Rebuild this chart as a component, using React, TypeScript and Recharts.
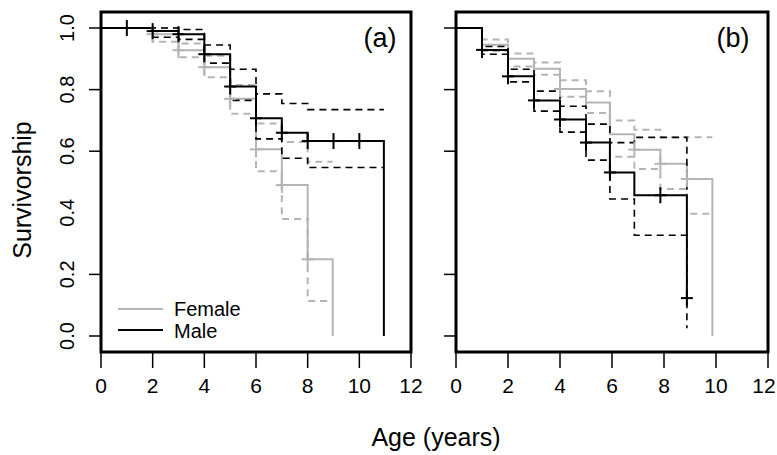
import React from 'react';
import { ComposedChart, Line, Scatter, XAxis, YAxis, ReferenceArea } from 'recharts';

// survival estimates: t = age (years), s = survivorship
const maleA = [
  { t: 0, s: 1 }, { t: 2, s: 0.99 }, { t: 3, s: 0.98 }, { t: 4, s: 0.915 }, { t: 5, s: 0.81 },
  { t: 6, s: 0.707 }, { t: 7, s: 0.66 }, { t: 8, s: 0.633 }, { t: 10.95, s: 0 },
];
const maleAUpper = [
  { t: 0, s: 1 }, { t: 2, s: 1 }, { t: 3, s: 0.995 }, { t: 4, s: 0.945 }, { t: 5, s: 0.866 },
  { t: 6, s: 0.786 }, { t: 7, s: 0.755 }, { t: 8, s: 0.735 }, { t: 10.95, s: 0.735 },
];
const maleALower = [
  { t: 0, s: 1 }, { t: 2, s: 0.97 }, { t: 3, s: 0.963 }, { t: 4, s: 0.886 }, { t: 5, s: 0.765 },
  { t: 6, s: 0.64 }, { t: 7, s: 0.577 }, { t: 8, s: 0.547 }, { t: 10.95, s: 0.547 },
];
const maleACensor = [
  { t: 1, s: 1 }, { t: 2, s: 0.99 }, { t: 3, s: 0.98 }, { t: 4, s: 0.915 }, { t: 5, s: 0.81 },
  { t: 6, s: 0.707 }, { t: 7, s: 0.66 }, { t: 8, s: 0.633 }, { t: 9, s: 0.633 }, { t: 10, s: 0.633 },
];

const femaleA = [
  { t: 0, s: 1 }, { t: 2, s: 0.98 }, { t: 3, s: 0.928 }, { t: 4, s: 0.873 }, { t: 5, s: 0.77 },
  { t: 6, s: 0.606 }, { t: 7, s: 0.49 }, { t: 8, s: 0.249 }, { t: 8.97, s: 0 },
];
const femaleAUpper = [
  { t: 0, s: 1 }, { t: 2, s: 1 }, { t: 3, s: 0.95 }, { t: 4, s: 0.91 }, { t: 5, s: 0.815 },
  { t: 6, s: 0.69 }, { t: 7, s: 0.63 }, { t: 8, s: 0.566 }, { t: 8.97, s: 0.566 },
];
const femaleALower = [
  { t: 0, s: 1 }, { t: 2, s: 0.955 }, { t: 3, s: 0.905 }, { t: 4, s: 0.84 }, { t: 5, s: 0.722 },
  { t: 6, s: 0.535 }, { t: 7, s: 0.38 }, { t: 8, s: 0.114 }, { t: 8.97, s: 0.114 },
];
const femaleACensor = [
  { t: 2, s: 0.98 }, { t: 3, s: 0.928 }, { t: 4, s: 0.873 }, { t: 5, s: 0.77 },
  { t: 6, s: 0.606 }, { t: 7, s: 0.49 }, { t: 8, s: 0.249 },
];

const maleB = [
  { t: 0, s: 1 }, { t: 1, s: 0.929 }, { t: 2, s: 0.843 }, { t: 3, s: 0.765 }, { t: 4, s: 0.703 },
  { t: 5, s: 0.628 }, { t: 5.92, s: 0.531 }, { t: 6.86, s: 0.457 }, { t: 8.88, s: 0.123 },
];
const maleBUpper = [
  { t: 0, s: 1 }, { t: 1, s: 0.94 }, { t: 2, s: 0.866 }, { t: 3, s: 0.795 }, { t: 4, s: 0.746 },
  { t: 5, s: 0.688 }, { t: 5.92, s: 0.628 }, { t: 6.86, s: 0.645 }, { t: 8.88, s: 0.46 },
];
const maleBLower = [
  { t: 0, s: 1 }, { t: 1, s: 0.915 }, { t: 2, s: 0.825 }, { t: 3, s: 0.73 }, { t: 4, s: 0.662 },
  { t: 5, s: 0.571 }, { t: 5.92, s: 0.445 }, { t: 6.86, s: 0.327 }, { t: 8.88, s: 0.025 },
];
const maleBCensor = [
  { t: 1, s: 0.929 }, { t: 2, s: 0.843 }, { t: 3, s: 0.765 }, { t: 4, s: 0.703 },
  { t: 5, s: 0.628 }, { t: 5.92, s: 0.531 }, { t: 7.86, s: 0.457 }, { t: 8.88, s: 0.123 },
];

const femaleB = [
  { t: 0, s: 1 }, { t: 1, s: 0.946 }, { t: 2, s: 0.9 }, { t: 3, s: 0.868 }, { t: 4, s: 0.802 },
  { t: 5, s: 0.758 }, { t: 5.92, s: 0.655 }, { t: 6.86, s: 0.605 }, { t: 7.86, s: 0.559 },
  { t: 8.88, s: 0.51 }, { t: 9.86, s: 0 },
];
const femaleBUpper = [
  { t: 0, s: 1 }, { t: 1, s: 0.963 }, { t: 2, s: 0.917 }, { t: 3, s: 0.888 }, { t: 4, s: 0.83 },
  { t: 5, s: 0.795 }, { t: 5.92, s: 0.7 }, { t: 6.86, s: 0.67 }, { t: 7.86, s: 0.645 },
  { t: 9.86, s: 0.645 },
];
const femaleBLower = [
  { t: 0, s: 1 }, { t: 1, s: 0.925 }, { t: 2, s: 0.875 }, { t: 3, s: 0.848 }, { t: 4, s: 0.777 },
  { t: 5, s: 0.724 }, { t: 5.92, s: 0.582 }, { t: 6.86, s: 0.542 }, { t: 7.86, s: 0.477 },
  { t: 8.88, s: 0.397 }, { t: 9.86, s: 0.397 },
];
const femaleBCensor = [
  { t: 4, s: 0.802 }, { t: 6.86, s: 0.605 }, { t: 7.86, s: 0.559 }, { t: 8.88, s: 0.51 },
];

const xTicks = [0, 2, 4, 6, 8, 10, 12];
const yTicks = [0, 0.2, 0.4, 0.6, 0.8, 1];

const Y_MIN = -0.052;
const Y_MAX = 1.052;
const GREY = '#b4b4b4';
const FONT = '"Liberation Sans", Arial, sans-serif';

const cross = (color: string) => (props: any) => {
  const { cx, cy } = props;
  return (
    <g>
      <line x1={cx - 6} x2={cx + 6} y1={cy} y2={cy} stroke={color} strokeWidth={2} />
      <line x1={cx} x2={cx} y1={cy - 8} y2={cy + 8} stroke={color} strokeWidth={2} />
    </g>
  );
};

const makeYTick = (withLabel: boolean) => (props: any) => {
  const { x, y, payload } = props;
  const v = payload.value as number;
  return (
    <g>
      {/* the reference has no tick mark at 0.4 */}
      {Math.abs(v - 0.4) > 1e-6 && (
        <line x1={x - 12} x2={x} y1={y} y2={y} stroke="#000" strokeWidth={1.5} />
      )}
      {withLabel && (
        <text
          x={x - 34}
          y={y}
          transform={`rotate(-90 ${x - 34} ${y})`}
          textAnchor="middle"
          dominantBaseline="central"
          fontSize={20}
          fontFamily={FONT}
          fill="#000"
        >
          {v.toFixed(1)}
        </text>
      )}
    </g>
  );
};

// maxX keeps the last label inside the chart's own svg
const makeXTick = (maxX: number) => (props: any) => {
  const { x, y, payload } = props;
  const tx = Math.min(x, maxX);
  return (
    <g>
      <line x1={x} x2={x} y1={y} y2={y + 16} stroke="#000" strokeWidth={1.5} />
      <text
        x={tx}
        y={y + 33}
        textAnchor="middle"
        dominantBaseline="central"
        fontSize={21}
        fontFamily={FONT}
        fill="#000"
      >
        {payload.value}
      </text>
    </g>
  );
};

type Series = { t: number; s: number }[];

function Panel({
  width, yAxisWidth, rightMargin, withLabels,
  male, maleUp, maleLo, maleCens, female, femaleUp, femaleLo, femaleCens,
}: {
  width: number; yAxisWidth: number; rightMargin: number; withLabels: boolean;
  male: Series; maleUp: Series; maleLo: Series; maleCens: Series;
  female: Series; femaleUp: Series; femaleLo: Series; femaleCens: Series;
}) {
  return (
    <ComposedChart width={width} height={400} margin={{ top: 12, right: rightMargin, bottom: 0, left: 0 }}>
      <XAxis
        type="number"
        dataKey="t"
        domain={[0, 12]}
        ticks={xTicks}
        allowDataOverflow
        height={48}
        axisLine={false}
        tickLine={false}
        tickSize={0}
        tickMargin={0}
        tick={makeXTick(width - 13)}
        interval={0}
      />
      <YAxis
        type="number"
        dataKey="s"
        domain={[Y_MIN, Y_MAX]}
        ticks={yTicks}
        allowDataOverflow
        width={yAxisWidth}
        axisLine={false}
        tickLine={false}
        tickSize={0}
        tickMargin={0}
        tick={makeYTick(withLabels)}
        interval={0}
      />
      <Line data={femaleUp} dataKey="s" type="stepAfter" stroke={GREY} strokeWidth={2} strokeDasharray="7 5" dot={false} isAnimationActive={false} />
      <Line data={femaleLo} dataKey="s" type="stepAfter" stroke={GREY} strokeWidth={2} strokeDasharray="7 5" dot={false} isAnimationActive={false} />
      <Line data={female} dataKey="s" type="stepAfter" stroke={GREY} strokeWidth={2} dot={false} isAnimationActive={false} />
      <Scatter data={femaleCens} dataKey="s" shape={cross(GREY)} isAnimationActive={false} />
      <Line data={maleUp} dataKey="s" type="stepAfter" stroke="#000" strokeWidth={1.6} strokeDasharray="7 5" dot={false} isAnimationActive={false} />
      <Line data={maleLo} dataKey="s" type="stepAfter" stroke="#000" strokeWidth={1.6} strokeDasharray="7 5" dot={false} isAnimationActive={false} />
      <Line data={male} dataKey="s" type="stepAfter" stroke="#000" strokeWidth={2} dot={false} isAnimationActive={false} />
      <Scatter data={maleCens} dataKey="s" shape={cross('#000')} isAnimationActive={false} />
      <ReferenceArea x1={0} x2={12} y1={Y_MIN} y2={Y_MAX} fill="none" stroke="#000" strokeWidth={3} ifOverflow="visible" />
    </ComposedChart>
  );
}

export default function App() {
  return (
    <div style={{ position: 'absolute', left: 0, top: 0, width: 777, height: 455, background: '#fff', fontFamily: FONT }}>
      <div style={{ position: 'absolute', left: 0, top: 0 }}>
        <Panel
          width={430} yAxisWidth={101} rightMargin={19} withLabels
          male={maleA} maleUp={maleAUpper} maleLo={maleALower} maleCens={maleACensor}
          female={femaleA} femaleUp={femaleAUpper} femaleLo={femaleALower} femaleCens={femaleACensor}
        />
      </div>
      <div style={{ position: 'absolute', left: 430, top: 0 }}>
        <Panel
          width={347} yAxisWidth={26} rightMargin={9} withLabels={false}
          male={maleB} maleUp={maleBUpper} maleLo={maleBLower} maleCens={maleBCensor}
          female={femaleB} femaleUp={femaleBUpper} femaleLo={femaleBLower} femaleCens={femaleBCensor}
        />
      </div>
      <svg width={777} height={455} style={{ position: 'absolute', left: 0, top: 0, pointerEvents: 'none' }} fontFamily={FONT}>
        <text x={380} y={38} textAnchor="middle" dominantBaseline="central" fontSize={27}>(a)</text>
        <text x={733} y={38} textAnchor="middle" dominantBaseline="central" fontSize={27}>(b)</text>
        <line x1={118} x2={163} y1={309} y2={309} stroke={GREY} strokeWidth={2} />
        <line x1={118} x2={163} y1={330} y2={330} stroke="#000" strokeWidth={2} />
        <text x={174} y={309} dominantBaseline="central" fontSize={20}>Female</text>
        <text x={174} y={331} dominantBaseline="central" fontSize={20}>Male</text>
        <text x={22} y={190} transform="rotate(-90 22 190)" textAnchor="middle" dominantBaseline="central" fontSize={25}>Survivorship</text>
        <text x={436} y={437} textAnchor="middle" dominantBaseline="central" fontSize={25}>Age (years)</text>
      </svg>
    </div>
  );
}
